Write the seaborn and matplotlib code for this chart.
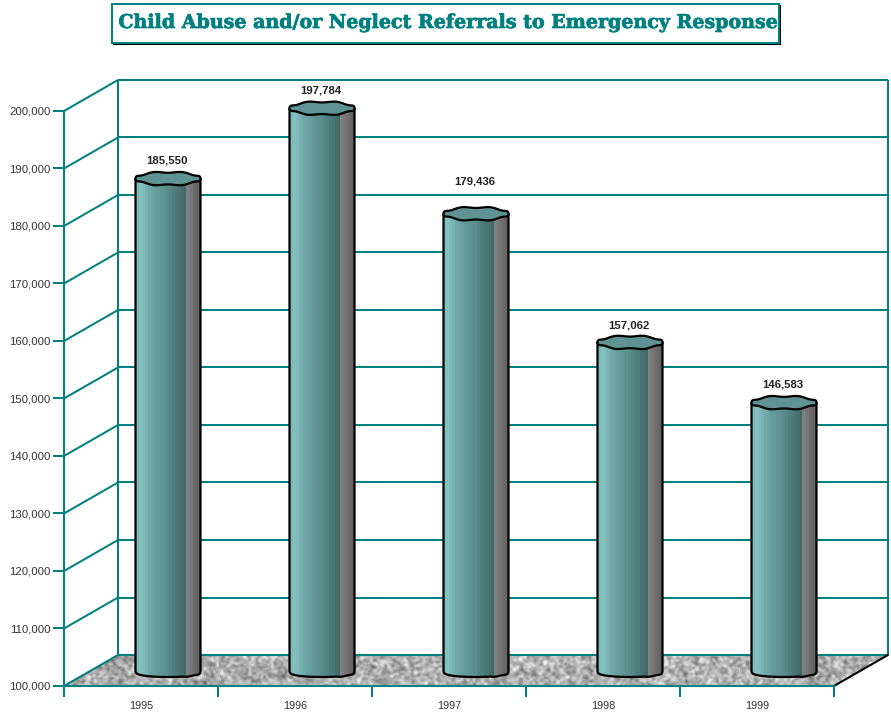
import numpy as np
import pandas as pd
import matplotlib
matplotlib.use("Agg")
import matplotlib.pyplot as plt
import matplotlib.patheffects as pe
from matplotlib.patches import Polygon, Rectangle
import seaborn as sns

years = ["1995", "1996", "1997", "1998", "1999"]
referrals = [185550, 197784, 179436, 157062, 146583]
value_ticks = list(range(100000, 200001, 10000))
title = "Child Abuse and/or Neglect Referrals to Emergency Response"

TEAL = "#008080"
W, H = 891, 715
L, R, T, B = 64, 834, 111, 686
YMIN, YMAX = 100000, 200000
PX = 5 / (R - L)
PY = (YMAX - YMIN) / (B - T)
DX, DY = 54 * PX, 31 * PY
BAR_W = 65 * PX
RY = 6.5
label_gap = [18, 18, 32, 17, 18]

sns.set_theme(style="white")
plt.rcParams["font.family"] = ["Liberation Sans", "DejaVu Sans"]

fig = plt.figure(figsize=(W / 100, H / 100), dpi=100, facecolor="white")
ax = fig.add_axes([L / W, 1 - B / H, (R - L) / W, (B - T) / H])
ax.patch.set_alpha(0)

df = pd.DataFrame({"year": years, "referrals": referrals})
sns.barplot(data=df, x="year", y="referrals", width=BAR_W, color="#5f9393",
            saturation=1, errorbar=None, ax=ax, zorder=5)

x0, x1 = -0.5, 4.5
gl = dict(color=TEAL, lw=1.45, clip_on=False, solid_capstyle="butt")


def blur(a, n):
    for _ in range(n):
        a = sum(np.roll(a, (i, j), (0, 1)) for i in (-1, 0, 1) for j in (-1, 0, 1)) / 9
    return a


# floor with a speckled stone texture
gx, gy = np.meshgrid(np.arange(830), np.arange(34))
noise = np.abs(np.modf(np.sin(gx * 12.9898 + gy * 78.233) * 43758.5453)[0]) - 0.5
fine = blur(noise, 1)
coarse = blur(noise, 3)
tex = fine / fine.std() * 0.04 + coarse / coarse.std() * 0.05 + 0.69
img = ax.imshow(tex, cmap="gray", vmin=0, vmax=1, aspect="auto", zorder=1,
                extent=(x0, x1 + DX, YMIN, YMIN + DY), interpolation="bilinear")
floor = Polygon([(x0, YMIN), (x1, YMIN), (x1 + DX, YMIN + DY), (x0 + DX, YMIN + DY)],
                transform=ax.transData, fc="none", ec="none")
ax.add_patch(floor)
img.set_clip_path(floor)
img.set_clip_box(fig.bbox)

# back wall and side wall grid
for v in value_ticks:
    ax.plot([x0 + DX, x1 + DX], [v + DY, v + DY], zorder=2, **gl)
    ax.plot([x0, x0 + DX], [v, v + DY], zorder=2, **gl)
ax.plot([x0 + DX, x0 + DX], [YMIN + DY, YMAX + DY], zorder=2, **gl)
ax.plot([x1 + DX, x1 + DX], [YMIN + DY, YMAX + DY], zorder=2, **gl)
ax.plot([x1, x1 + DX], [YMIN, YMIN + DY], color="black", lw=1.45, zorder=2, clip_on=False)

# cylinders: the bar patches from seaborn are restyled with a shaded body
stops_x = [0, 4, 12, 30, 49, 50, 64]
stops_c = np.array([[0x7e, 0xbb, 0xbb], [0x86, 0xc2, 0xc2], [0x70, 0xa8, 0xa8],
                    [0x5a, 0x8c, 0x8c], [0x40, 0x66, 0x66], [0x82, 0x82, 0x82],
                    [0x5e, 0x5e, 0x5e]], dtype=float)
cols = np.arange(65)
band = (cols // 3) * 3
band[50:] = cols[50:]
shade = np.stack([np.interp(band, stops_x, stops_c[:, k]) for k in range(3)], -1)[None] / 255

t_top = np.linspace(0, 2 * np.pi, 121)
t_bot = np.linspace(0, np.pi, 61)
for p, v, gap in zip(ax.patches, referrals, label_gap):
    cx = p.get_x() + p.get_width() / 2 + DX / 2
    base = YMIN + DY / 2
    top = v + DY / 2
    p.set_x(cx - BAR_W / 2)
    p.set_y(base)
    p.set_height(v - YMIN)
    p.set_linewidth(0)
    p.set_clip_on(False)
    px = 32.5 * np.cos(t_bot)
    py = -RY * np.sin(t_bot) ** 0.6 - 0.5 * np.sin(5 * t_bot) ** 2 * (px > 15)
    outline = [(cx + 32.5 * PX, top)] + list(zip(cx + px * PX, base + py * PY)) + [(cx - 32.5 * PX, top)]
    body = Polygon(outline, closed=True, transform=ax.transData, fc="none", ec="black",
                   lw=1.6, zorder=7, clip_on=False, joinstyle="round")
    ax.add_patch(body)
    im = ax.imshow(shade, aspect="auto", zorder=6, interpolation="nearest",
                   extent=(cx - BAR_W / 2, cx + BAR_W / 2, base - 9 * PY, top + RY * PY))
    im.set_clip_path(body)
    im.set_clip_box(fig.bbox)
    qx = 32.5 * np.cos(t_top)
    qy = RY * np.sin(t_top) + 0.7 * np.sin(7 * t_top)
    ax.add_patch(Polygon(list(zip(cx + qx * PX, top + qy * PY)), closed=True, fc="#5f9393",
                         ec="black", lw=1.6, zorder=8, clip_on=False, joinstyle="round"))
    ax.annotate(f"{v:,}", (cx, top), xytext=(-1, gap * 0.72), textcoords="offset points",
                ha="center", va="center", fontsize=8.2, fontweight="bold",
                color="#222222", zorder=9, annotation_clip=False)

# axes
ax.set_xlim(x0, x1)
ax.set_ylim(YMIN, YMAX)
ax.set_xlabel("")
ax.set_ylabel("")
ax.set_yticks(value_ticks)
ax.set_yticklabels([f"{v:,}" for v in value_ticks])
ax.set_xticks(np.arange(len(years)))
ax.set_xticklabels(years)
ax.set_xticks(np.arange(len(years) + 1) - 0.5, minor=True)
ax.tick_params(axis="y", which="major", length=8, width=1.45, color=TEAL, pad=1.5,
               labelsize=8.2, labelcolor="#333333", left=True)
ax.tick_params(axis="x", which="major", length=0, pad=10.5, labelsize=7.8, labelcolor="#333333")
ax.tick_params(axis="x", which="minor", length=8, width=1.45, color=TEAL, bottom=True)
for s in ("top", "right"):
    ax.spines[s].set_visible(False)
for s in ("left", "bottom"):
    ax.spines[s].set_color(TEAL)
    ax.spines[s].set_linewidth(1.45)
    ax.spines[s].set_zorder(3)


# title box
def fig_rect(x, y, w, h, **kw):
    fig.add_artist(Rectangle((x / W, 1 - (y + h) / H), w / W, h / H,
                             transform=fig.transFigure, **kw))


fig_rect(113, 5, 668, 40, fc="black", ec="none")
fig_rect(112, 4, 667, 39, fc="white", ec=TEAL, lw=1.45)
fig.text(447 / W, 1 - 23 / H, title, ha="center", va="center", color=TEAL,
         fontsize=13.7, fontweight="bold", family=["DejaVu Serif"],
         path_effects=[pe.withStroke(linewidth=0.5, foreground=TEAL)])

fig.savefig("out.png", dpi=100, facecolor="white")
